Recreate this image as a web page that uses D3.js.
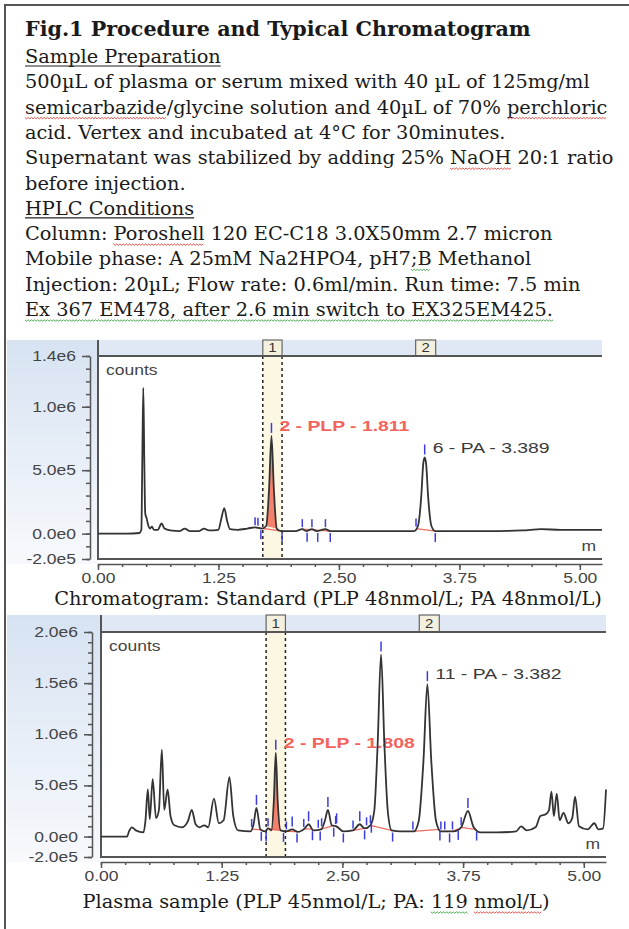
<!DOCTYPE html>
<html>
<head>
<meta charset="utf-8">
<script src="https://cdn.jsdelivr.net/npm/d3@7"></script>
<style>
  body { margin: 0; background: #fff; }
  svg { display: block; }
</style>
</head>
<body>
<svg id="fig"></svg>
<script>
// ---- text of the figure ----
const titleText = "Fig.1 Procedure and Typical Chromatogram";
const bodyLines = [
  [{t: "Sample Preparation", u: "line"}],
  [{t: "500µL of plasma or serum mixed with 40 µL of 125mg/ml"}],
  [{t: "semicarbazide", u: "red"}, {t: "/glycine solution and 40µL of 70% "}, {t: "perchloric", u: "red"}],
  [{t: "acid. Vertex and incubated at 4°C for 30minutes."}],
  [{t: "Supernatant was stabilized by adding 25% "}, {t: "NaOH", u: "red"}, {t: " 20:1 ratio"}],
  [{t: "before injection."}],
  [{t: "HPLC Conditions", u: "line"}],
  [{t: "Column: "}, {t: "Poroshell", u: "red"}, {t: " 120 EC-C18 3.0X50mm 2.7 micron"}],
  [{t: "Mobile phase: A 25mM Na2HPO4, pH7"}, {t: ";B", u: "green"}, {t: " Methanol"}],
  [{t: "Injection: 20µL; Flow rate: 0.6ml/min. Run time: 7.5 min"}],
  [{t: "Ex 367 EM478, after 2.6 min switch to EX325EM425.", u: "green"}]
];
const stdCaption = [{t: "Chromatogram: Standard (PLP 48nmol/L; PA 48nmol/L)"}];
const plasmaCaption = [{t: "Plasma sample (PLP 45nmol/L; PA: "}, {t: "119", u: "green"}, {t: " "}, {t: "nmol/L", u: "red"}, {t: ")"}];

// ---- axes ----
const timeDomain = [0, 5.23];
const timeTicks = [0, 1.25, 2.5, 3.75, 5.0];
const std_yTicks = [-2e5, 0, 5e5, 1e6, 1.4e6];
const plasma_yTicks = [-2e5, 0, 5e5, 1e6, 1.5e6, 2e6];
const eventWindow = [1.71, 1.91];   // timed event "1"
const event2Time = 3.40;            // timed event "2"

// ---- standard chromatogram [min, counts] ----
const std_trace = [
  [0.00, 0], [0.30, 0], [0.43, 0.05e5], [0.45, 0.3e5], [0.46, 6e5], [0.47, 11.5e5], [0.48, 6e5],
  [0.49, 1.6e5], [0.505, 1.2e5], [0.52, 0.7e5], [0.54, 0.4e5], [0.56, 0.55e5], [0.58, 0.3e5],
  [0.62, 0.3e5], [0.66, 0.8e5], [0.69, 0.4e5], [0.75, 0.25e5], [0.85, 0.2e5], [0.90, 0.4e5],
  [0.95, 0.2e5], [1.05, 0.2e5], [1.10, 0.4e5], [1.15, 0.25e5], [1.25, 0.3e5], [1.28, 1.2e5],
  [1.31, 2.0e5], [1.34, 1.0e5], [1.37, 0.35e5], [1.45, 0.3e5], [1.55, 0.4e5], [1.63, 0.5e5],
  [1.70, 0.4e5], [1.745, 0.6e5], [1.775, 3.5e5], [1.80, 7.7e5], [1.825, 3.5e5], [1.855, 0.4e5],
  [1.90, 0.2e5], [2.05, 0.2e5], [2.12, 0.35e5], [2.16, 0.2e5], [2.22, 0.35e5], [2.27, 0.2e5],
  [2.36, 0.35e5], [2.41, 0.2e5], [2.80, 0.2e5], [3.28, 0.2e5], [3.32, 0.6e5], [3.355, 3.0e5],
  [3.375, 5.5e5], [3.39, 6.0e5], [3.405, 5.5e5], [3.425, 3.0e5], [3.46, 0.6e5], [3.50, 0.2e5],
  [4.00, 0.2e5], [4.40, 0.25e5], [4.60, 0.35e5], [4.80, 0.3e5], [5.23, 0.3e5]
];
const std_peaks = [
  {t: 1.80, label: "2 - PLP - 1.811", hot: true},
  {t: 3.39, label: "6 - PA - 3.389", hot: false}
];
const std_apexMarks = [1.80, 3.39];
const std_upMarks = [1.63, 1.66, 2.12, 2.22, 2.36, 3.30];
const std_downMarks = [1.69, 1.91, 2.17, 2.28, 2.41, 3.50];
const std_baselines = [[1.63, 1.91], [2.12, 2.41], [3.30, 3.50]];
const std_fill = [1.745, 1.86];

// ---- plasma chromatogram [min, counts] ----
const plasma_trace = [
  [0.00, 0], [0.27, 0], [0.29, 0.5e5], [0.32, 0.9e5], [0.36, 0.6e5], [0.44, 0.4e5], [0.46, 1.5e5],
  [0.485, 4.6e5], [0.505, 1.7e5], [0.535, 5.6e5], [0.57, 1.8e5], [0.60, 2.6e5], [0.63, 8.5e5],
  [0.655, 2.6e5], [0.69, 4.6e5], [0.72, 2.0e5], [0.76, 1.1e5], [0.84, 0.9e5], [0.90, 1.5e5],
  [0.94, 2.6e5], [0.98, 1.2e5], [1.02, 0.9e5], [1.07, 1.1e5], [1.11, 0.9e5], [1.17, 3.7e5],
  [1.22, 1.3e5], [1.27, 1.6e5], [1.33, 5.8e5], [1.37, 2.0e5], [1.42, 0.6e5], [1.55, 0.5e5],
  [1.58, 1.2e5], [1.61, 2.8e5], [1.65, 0.7e5], [1.70, 0.5e5], [1.73, 0.8e5], [1.765, 0.6e5],
  [1.79, 3.5e5], [1.81, 8.2e5], [1.83, 3.5e5], [1.86, 0.6e5], [1.92, 0.5e5], [1.98, 0.7e5],
  [2.04, 0.45e5], [2.11, 0.8e5], [2.15, 1.2e5], [2.20, 0.6e5], [2.28, 0.7e5], [2.32, 1.6e5],
  [2.35, 2.6e5], [2.39, 1.1e5], [2.44, 1.0e5], [2.51, 0.5e5], [2.61, 0.6e5], [2.68, 1.2e5],
  [2.73, 0.8e5], [2.79, 1.1e5], [2.83, 2.5e5], [2.865, 9e5], [2.90, 17.8e5], [2.935, 9e5],
  [2.97, 2.5e5], [3.01, 0.6e5], [3.10, 0.5e5], [3.24, 0.5e5], [3.29, 1.5e5], [3.34, 7.5e5],
  [3.38, 14.9e5], [3.42, 7.5e5], [3.47, 1.5e5], [3.52, 0.5e5], [3.65, 0.5e5], [3.73, 0.9e5],
  [3.80, 2.5e5], [3.86, 0.9e5], [3.93, 0.4e5], [4.10, 0.4e5], [4.30, 0.5e5], [4.35, 1.0e5],
  [4.41, 0.6e5], [4.50, 0.9e5], [4.55, 2.0e5], [4.61, 2.2e5], [4.64, 2.6e5], [4.665, 4.4e5],
  [4.69, 2.0e5], [4.72, 4.2e5], [4.75, 1.6e5], [4.79, 2.3e5], [4.84, 1.3e5], [4.88, 1.8e5],
  [4.91, 3.9e5], [4.95, 1.0e5], [5.04, 0.7e5], [5.11, 1.3e5], [5.15, 0.7e5], [5.20, 0.8e5],
  [5.23, 4.6e5]
];
const plasma_peaks = [
  {t: 1.81, label: "2 - PLP - 1.808", hot: true},
  {t: 3.38, label: "11 - PA - 3.382", hot: false}
];
const plasma_apexMarks = [1.61, 1.81, 1.98, 2.15, 2.35, 2.44, 2.68, 2.90, 3.38, 3.80];
const plasma_upMarks = [1.56, 1.73, 1.92, 2.10, 2.25, 2.285, 2.43, 2.61, 2.75, 2.79, 3.23, 3.52, 3.56, 3.64, 3.73];
const plasma_downMarks = [1.66, 1.71, 1.89, 2.03, 2.19, 2.27, 2.41, 2.51, 2.73, 2.80, 3.02, 3.51, 3.61, 3.70, 3.89];
const plasma_baselines = [[1.56, 1.66], [1.73, 1.89], [1.92, 2.03], [2.10, 2.19], [2.25, 2.41], [2.43, 2.51],
  [2.61, 2.73], [2.79, 3.02], [3.23, 3.51], [3.52, 3.61], [3.64, 3.70], [3.73, 3.89]];
const plasma_fill = [1.765, 1.86];

// ---------------------------------------------------------------
const W = 629, H = 929;
const serif = "'DejaVu Serif', serif";
const sans = "'Liberation Sans', Arial, sans-serif";
const SX = 1.25;   // the chart picture is stretched sideways

const svg = d3.select("#fig").attr("width", W).attr("height", H);

// page frame
svg.append("path")
  .attr("d", "M5,929 V5 H629")
  .attr("fill", "none").attr("stroke", "#555").attr("stroke-width", 2);

// fit serif sizes to the reference widths
function measure(str, size, weight) {
  const t = svg.append("text").attr("font-family", serif).attr("font-size", size)
    .attr("font-weight", weight).text(str);
  const w = t.node().getComputedTextLength();
  t.remove();
  return w;
}
const bodySize = 20 * 565 / measure(bodyLines[1][0].t, 20, "normal");
const titleSize = 20 * 506 / measure(titleText, 20, "bold");

function squiggle(x1, x2, y, color) {
  const pts = [];
  for (let xx = x1, i = 0; xx <= x2; xx += 1.6, i++) pts.push([xx, y + (i % 2 ? 1.2 : -0.2)]);
  svg.append("path").attr("d", d3.line()(pts))
    .attr("fill", "none").attr("stroke", color).attr("stroke-width", 0.9);
}

function writeLine(parts, x, y, anchor) {
  const text = svg.append("text")
    .attr("x", x).attr("y", y)
    .attr("font-family", serif).attr("font-size", bodySize)
    .attr("fill", "#1a1a1a").attr("text-anchor", anchor || "start");
  parts.forEach(p => text.append("tspan").text(p.t));
  const node = text.node();
  const x0 = node.getStartPositionOfChar(0).x;
  let idx = 0;
  parts.forEach(p => {
    if (p.u) {
      const xs = x0 + (idx > 0 ? node.getSubStringLength(0, idx) : 0);
      const xe = xs + node.getSubStringLength(idx, p.t.length);
      if (p.u === "line") {
        svg.append("line").attr("x1", xs).attr("x2", xe).attr("y1", y + 3).attr("y2", y + 3)
          .attr("stroke", "#222").attr("stroke-width", 1.2);
      } else {
        squiggle(xs, xe, y + 4, p.u === "red" ? "#e0403a" : "#3aa040");
      }
    }
    idx += p.t.length;
  });
}

svg.append("text")
  .attr("x", 25).attr("y", 36)
  .attr("font-family", serif).attr("font-size", titleSize).attr("font-weight", "bold")
  .attr("fill", "#1a1a1a").text(titleText);

bodyLines.forEach((parts, i) => writeLine(parts, 25, 63 + i * 25.3));

// ---------------------------------------------------------------
const fmtExp = v => d3.format(".1e")(v).replace("+", "").replace("−", "-");

function valueAt(trace, t) {
  const i = d3.bisector(d => d[0]).left(trace, t);
  if (i <= 0) return trace[0][1];
  if (i >= trace.length) return trace[trace.length - 1][1];
  const a = trace[i - 1], b = trace[i];
  return a[1] + (b[1] - a[1]) * (t - a[0]) / (b[0] - a[0]);
}

function stretched(g, x, y, str, size, color, weight, anchor) {
  return g.append("text")
    .attr("transform", `translate(${x},${y}) scale(${SX},1)`)
    .attr("font-family", sans).attr("font-size", size).attr("font-weight", weight || "normal")
    .attr("fill", color).attr("text-anchor", anchor || "start").text(str);
}

function drawChart(c) {
  const g = svg.append("g");
  const x = d3.scaleLinear().domain(timeDomain).range([c.x0, c.x1]);
  const y = d3.scaleLinear().domain(c.yDomain).range([c.bottom, c.top]);

  // backgrounds
  const gid = "lg" + c.id;
  const grad = svg.append("defs").append("linearGradient").attr("id", gid)
    .attr("x1", 0).attr("y1", 0).attr("x2", 0).attr("y2", 1);
  grad.append("stop").attr("offset", 0).attr("stop-color", "#d7e3f2");
  grad.append("stop").attr("offset", 1).attr("stop-color", "#f7f9fc");
  g.append("rect").attr("x", 7).attr("y", c.bandTop).attr("width", c.x0 - 7)
    .attr("height", c.axisY - c.bandTop).attr("fill", `url(#${gid})`);
  g.append("rect").attr("x", c.x0).attr("y", c.bandTop).attr("width", c.x1 - c.x0)
    .attr("height", c.top - c.bandTop).attr("fill", "#dfe8f4");
  g.append("rect").attr("x", x(eventWindow[0])).attr("y", c.top)
    .attr("width", x(eventWindow[1]) - x(eventWindow[0])).attr("height", c.bottom - c.top)
    .attr("fill", "#fcf7e2");

  // timed events
  g.append("rect").attr("x", x(eventWindow[0])).attr("y", c.bandTop)
    .attr("width", x(eventWindow[1]) - x(eventWindow[0])).attr("height", c.top - c.bandTop)
    .attr("fill", "#f4f0de").attr("stroke", "#666").attr("stroke-width", 1.2);
  stretched(g, (x(eventWindow[0]) + x(eventWindow[1])) / 2, c.top - 4, "1", 12, "#333", "normal", "middle");
  g.append("rect").attr("x", x(event2Time) - 10).attr("y", c.bandTop)
    .attr("width", 20).attr("height", c.top - c.bandTop)
    .attr("fill", "#f4f0de").attr("stroke", "#666").attr("stroke-width", 1.2);
  stretched(g, x(event2Time), c.top - 4, "2", 12, "#333", "normal", "middle");
  eventWindow.forEach(t => g.append("line")
    .attr("x1", x(t)).attr("x2", x(t)).attr("y1", c.top).attr("y2", c.bottom)
    .attr("stroke", "#222").attr("stroke-width", 1.5).attr("stroke-dasharray", "3,3"));

  // frame
  g.append("path")
    .attr("d", `M${c.x0},${c.bandTop} V${c.bottom} H${c.x1} M${c.x0},${c.top} H${c.x1}`)
    .attr("fill", "none").attr("stroke", "#555").attr("stroke-width", 2);

  // peak labels (under the trace)
  c.peaks.forEach(p => {
    const v = valueAt(c.trace, p.t);
    stretched(g, x(p.t) + 8, y(v) - 5, p.label, 15.5,
      p.hot ? "#f2645c" : "#3a3a3a", p.hot ? "bold" : "normal");
  });

  // filled PLP peak
  const fillPts = c.trace.filter(d => d[0] >= c.fill[0] && d[0] <= c.fill[1]);
  const fa = valueAt(c.trace, c.fill[0]), fb = valueAt(c.trace, c.fill[1]);
  const base = t => fa + (fb - fa) * (t - c.fill[0]) / (c.fill[1] - c.fill[0]);
  g.append("path").datum([[c.fill[0], fa], ...fillPts, [c.fill[1], fb]])
    .attr("d", d3.area().curve(d3.curveMonotoneX)
      .x(d => x(d[0])).y1(d => y(d[1])).y0(d => y(base(d[0]))))
    .attr("fill", "#f2735f").attr("opacity", 0.9);

  // integration baselines
  c.baselines.forEach(([a, b]) => g.append("line")
    .attr("x1", x(a)).attr("x2", x(b))
    .attr("y1", y(valueAt(c.trace, a))).attr("y2", y(valueAt(c.trace, b)))
    .attr("stroke", "#ec6d62").attr("stroke-width", 1.3));

  // trace
  g.append("path").datum(c.trace)
    .attr("d", d3.line().curve(d3.curveMonotoneX).x(d => x(d[0])).y(d => y(d[1])))
    .attr("fill", "none").attr("stroke", "#333").attr("stroke-width", 1.8)
    .attr("stroke-linejoin", "round");

  // peak event markers
  const mark = (t, d1, d2, ref) => g.append("line")
    .attr("x1", x(t)).attr("x2", x(t))
    .attr("y1", y(ref) + d1).attr("y2", y(ref) + d2)
    .attr("stroke", "#3c3cdc").attr("stroke-width", 1.5);
  c.apex.forEach(t => mark(t, -13, -3, valueAt(c.trace, t)));
  c.up.forEach(t => mark(t, -10, -2, valueAt(c.trace, t)));
  c.down.forEach(t => mark(t, 2, 11, valueAt(c.trace, t)));

  // texts in the plot
  stretched(g, c.x0 + 8, c.top + 19, "counts", 14, "#444");
  stretched(g, c.x1 - 6, c.bottom - 8, "m", 14, "#444", "normal", "end");

  // y axis
  const yAxis = g.append("g").attr("transform", `translate(${c.yAxisX},0)`)
    .call(d3.axisLeft(y).tickValues(c.yTicks).tickSize(8).tickPadding(6)
      .tickSizeOuter(0).tickFormat(fmtExp));
  g.append("g").attr("transform", `translate(${c.yAxisX},0)`)
    .call(d3.axisLeft(y).tickValues(d3.range(c.yDomain[0], c.yDomain[1] + 1, 1e5))
      .tickSize(4).tickFormat(""))
    .call(a => a.select(".domain").remove());

  // x axis
  const xAxis = g.append("g").attr("transform", `translate(0,${c.axisY})`)
    .call(d3.axisBottom(x).tickValues(timeTicks).tickSize(6).tickPadding(3)
      .tickSizeOuter(0).tickFormat(d3.format(".2f")));
  g.append("g").attr("transform", `translate(0,${c.axisY})`)
    .call(d3.axisBottom(x).tickValues(d3.range(0, 5.2, 0.25)).tickSize(3).tickFormat(""))
    .call(a => a.select(".domain").remove());

  g.selectAll(".tick line, .domain").attr("stroke", "#555").attr("stroke-width", 1.5);
  [yAxis, xAxis].forEach(a => a.selectAll("text")
    .attr("font-family", sans).attr("font-size", 14).attr("fill", "#444")
    .attr("x", function () { return (+d3.select(this).attr("x") || 0) / SX; })
    .attr("transform", `scale(${SX},1)`));

  writeLine(c.caption, c.capX, c.capY, "middle");
}

drawChart({
  id: 1, x0: 98, x1: 602, bandTop: 340, top: 356, bottom: 559, axisY: 564, yAxisX: 90,
  yDomain: [-2e5, 1.4e6], yTicks: std_yTicks, trace: std_trace, peaks: std_peaks,
  apex: std_apexMarks, up: std_upMarks, down: std_downMarks, baselines: std_baselines,
  fill: std_fill, caption: stdCaption, capX: 328, capY: 605
});
drawChart({
  id: 2, x0: 101, x1: 606, bandTop: 615, top: 632, bottom: 857, axisY: 862, yAxisX: 92,
  yDomain: [-2e5, 2e6], yTicks: plasma_yTicks, trace: plasma_trace, peaks: plasma_peaks,
  apex: plasma_apexMarks, up: plasma_upMarks, down: plasma_downMarks, baselines: plasma_baselines,
  fill: plasma_fill, caption: plasmaCaption, capX: 316, capY: 908
});
</script>
</body>
</html>
